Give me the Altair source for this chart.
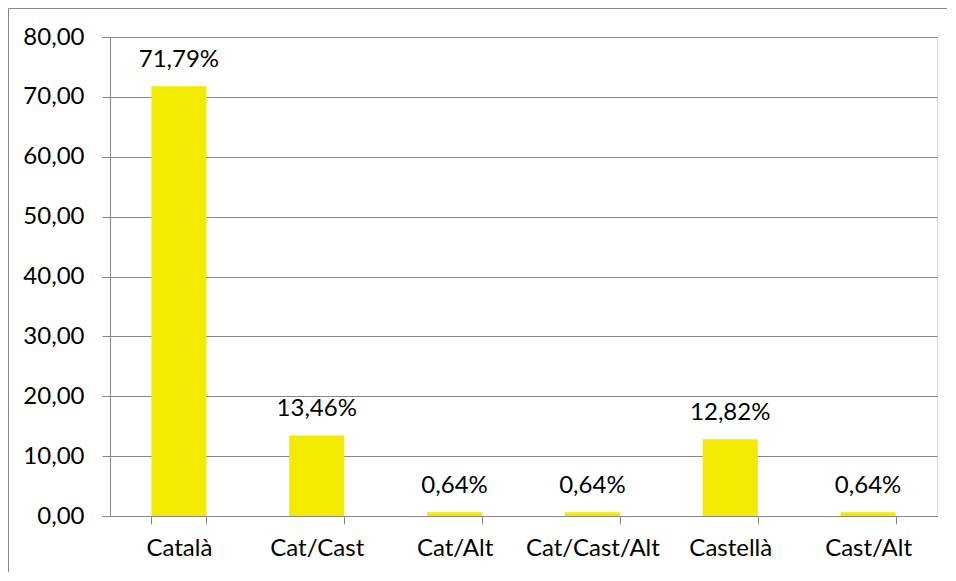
import altair as alt
import pandas as pd

categories = ["Català", "Cat/Cast", "Cat/Alt", "Cat/Cast/Alt", "Castellà", "Cast/Alt"]
values = [71.79, 13.46, 0.64, 0.64, 12.82, 0.64]
y_ticks = [0, 10, 20, 30, 40, 50, 60, 70, 80]

df = pd.DataFrame({"cat": categories, "val": values})

FONT = "Lato"
GRAY = "#878787"
YELLOW = "#F2EB00"
FS = 24

x = alt.X("cat:N", sort=categories, title=None,
          scale=alt.Scale(paddingInner=0.6, paddingOuter=0.3),
          axis=alt.Axis(labelAngle=0, tickBand="extent", tickSize=8, labelPadding=12,
                        domainColor=GRAY, tickColor=GRAY, labelFont=FONT,
                        labelFontSize=FS, labelColor="black", grid=False))
y = alt.Y("val:Q", title=None,
          scale=alt.Scale(domain=[0, 80], nice=False),
          axis=alt.Axis(values=y_ticks, tickSize=8, labelPadding=18,
                        labelExpr="replace(format(datum.value, '.2f'), '.', ',')",
                        domainColor=GRAY, tickColor=GRAY, gridColor=GRAY,
                        gridOpacity=1, labelFont=FONT, labelFontSize=FS,
                        labelColor="black"))

bars = alt.Chart(df).mark_bar(color=YELLOW).encode(x=x, y=y)

labels = alt.Chart(df).mark_text(
    font=FONT, fontSize=FS, color="black", baseline="middle", dy=-26
).transform_calculate(
    lab="replace(format(datum.val, '.2f'), '.', ',') + '%'"
).encode(x=alt.X("cat:N", sort=categories), y="val:Q", text="lab:N")

one = pd.DataFrame({"a": [0]})
top_line = alt.Chart(one).mark_rule(color=GRAY, strokeWidth=1).encode(
    x=alt.value(-101.5), x2=alt.value(900), y=alt.value(-28.5))
left_line = alt.Chart(one).mark_rule(color=GRAY, strokeWidth=1).encode(
    x=alt.value(-101.5), y=alt.value(-28.5), y2=alt.value(600))

chart = alt.layer(top_line, left_line, bars, labels).properties(
    width=827, height=479,
    autosize=alt.AutoSizeParams(type="none"),
    padding={"left": 102, "top": 29, "right": 10, "bottom": 56},
).configure_view(stroke=None).configure(background="white")

chart.save("out.html", embed_options={"renderer": "svg", "actions": False})
